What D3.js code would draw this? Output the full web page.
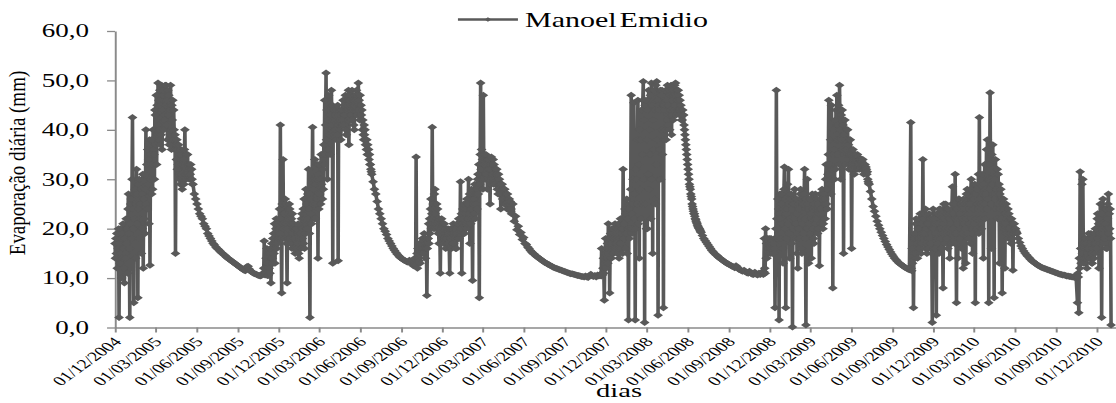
<!DOCTYPE html>
<html><head><meta charset="utf-8">
<script src="https://cdn.jsdelivr.net/npm/d3@7"></script>
<style>
html,body{margin:0;padding:0;background:#fff;overflow:hidden}
svg{display:block}
text{font-family:"Liberation Serif","Times New Roman",serif;fill:#000}
</style>
</head><body>
<svg id="chart" width="1116" height="403" viewBox="0 0 744 403" preserveAspectRatio="none"></svg>
<script>
// ---- data: wet seasons daily, dry-season recessions every 3 days ----
const startDate = "2004-12-01";
const seriesName = "Manoel Emidio";
const wet2004_05 = [17,14,18,15,19,12,19,16,20,2,17,13,20,15,18,10,19,14,21,16,12,9,18,15,
 14,22,17,20,11,24,27,19,16,2,21,25,26,18,30,42.5,24,20,5,27,22,28,14,25,
 32,21,27,6,24,29,30,18,25,22,28,15,27,20,31,12,26,22,31,19,28,
 40,25,33,24,36,29,34,21,38,12.6,30,35,38,27,33,28,40,36,35,30,44,43,37,47,
 33,45,39,49.5,41,46,40,48,37,45,39,49,36,44,47,48,40,43,42,49,45,
 49,41,46,38,48,43,47,37,45,44,49,40,36,45,42,46,38,44,40,36,39,15,37,34,
 38,32,36,33,37,31,30,35,29,36,31,34,28,33,30,34,29,36,40,31,33,30,35,32,35,31,33,33,30,32,31,33,30,32,30,29];
const dry2005 = [29,27,26,25,24,23,22.5,22,21,20.5, 20,19,18.5,18,17.5,17,16.7,16.3,16,15.8, 15.5,15.2,15,14.7,14.5,14.2,14,13.8,13.6,13.4, 13.2,13,12.8,12.6,12.4,12.2,12,11.8,11.6,11.5, 12.3,12.4,11.8,11.4,11.2,11,10.9,10.8,10.6,10.5, 10.4,10.5];
const wet2005_06 = [11,10.8,12,17.5,11,10.6,12,14,11,16,10.5,13,10.5,15,12,15,11,16,9,14,17,14,18,13,19,15,21,13,17,20,22,16,19,17,21,18,
 20,24,19,41,22,18,7,25,21,34,20,23,23,18,26,25,21,17,9,20,23,22,18,25,24,17,21,18,22,16,23,19,20,21,16,18,15,20,17,20,16,19,17,21,15,14,19,18,19,16,22,23,18,20,
 24,17,26,16,22,19,28,20,25,20,27,22,32,24,19,2,27,23,26,21,30,40.5,25,28,30,22,34,22,29,25,
 30,26,33,14,31,24,33,27,30,25,35,29,35,26,32,28,37,33,46,35,41,51.5,38,44,30,42,36,47,39,44,35,43,40,
 48,41,45,13,42,39,44,40,43,40,44,38,42,39,45,13.5,41,44,43,40,42,38,44,41,44,42,46,41,45,43,43,47,40,39,44,46,45,42,48,37,46,44,47,43,45,42,48,44,
 44,46,41,40,45,47,46,44,48,43,47,45,49.5,44,46,42,47,45,45,43,44,40,42,39,38,41,39,40,37,38,36,38,35,37,35,36,34,35,33,33,32,31.5];
const dry2006 = [31,29.5,28,27,25.5,24,23,22,21,20, 19.5,18.8,18,17.5,17,16.5,16,15.6,15.2,14.8, 14.5,14.2,14,13.8,13.6,13.5,13.3,13.2,13.6,13.1,13.4];
const wet2006_07 = [12.5,13.2,12.8,14,13,12.6,34.5,13.5,15,12,16,14,15,13.5,17,13,16,15,17,15,18,16,17.5,15,19,16,18,14,17,16,6.5,16,18,
 18,21,17,22,19,24,26,20,23,40.5,22,25,24,20,27,28,23,21,20,25,22,24,19,21,17,22,20,11,19,21,
 22,18,20,18,21,17,21,18,19,16,20,18,19,17,20,17,19,16,11,18,20,18,16,19,20,17,21,17,20,18,19,16,20,16,19,21,
 21,18,22,18,22,19,29.5,20,23,11,21,24,22,19,25,19,23,21,24,20,26,21,25,22,30,23,27,17,24,21,24,28,22,9.5,25,27,
 26,23,29,22,27,25,28,24,30,31,27,33,6,29,35,49.5,32,36,30,34,28,47,33,35,33,30,34,35,31,33,28,34,32,34,30,33,
 25,32,29,34.5,30,33,31,34,29,33,30,32,29,32,31,32,28,30,27,31,29,30,27,29,24,29,28,29,26,28,26,28,25,28,25,27,25,27,24,27,24,26,24,26,25,25.5,23.5,24];
const dry2007 = [23,25,21.5,22.5,19.8,20.5,18.8,19.2,17.8,18.2, 17,16.8,16.3,16,15.6,15.3,15,14.8,14.5,14.3, 14.1,13.9,13.7,13.5,13.3,13.1,13,12.8,12.7,12.5, 12.4,12.2,12.1,12,11.9,11.8,11.7,11.6,11.5,11.4, 11.3,11.2,11.1,11,10.9,10.9,10.8,10.7,10.6,10.5, 10.5,10.4,10.3,10.3,10.2,10.4,10.2,10.1,10.5,10.8, 10.4,10.3,10.5,10.2,10.6,10.4];
const wet2007_08 = [10.5,10.8,10.4,16,11,10.6,12,14,11,5.5,13,15,18,12,16,14,17,13,21,15,18,7,16,19,17,14,20,20,16,18,15,19,17,21,16,18,17,20,15,19,16,21,14,18,17,22,17,19,
 16,20,15,32,18,21,18,24,16,23,19,26,15,22,20,1.5,24,18,25,20,28,47,23,19,20,30,25,45.5,22,27,1.5,32,20,30,25,38,46,21,33,14,40,28,38,22,44,25,35,46,
 49.8,30,42,1,45,25,46,20,38,20,44,31,48,28,40,35,47,22,49.5,30,45,15,42,36,48,26,44,25,49,33,49.8,38,46,2.5,45,30,44,36,48,30,47,40,48,35,45,4,44,38,
 45,40,48,38,46,42,49,41,45,43,48,40,47,44,49,39,46,43,48,42,47,44,49,45,49.5,43,47,
 44,48,46,48,44,47,43,46,44,45,42,44,42,44,43,43,41,40,39,38,37,36,35,34,33,32,31,30,29,28.5,28,27,26.5,26,25,24.5,24,23.5,23,23,22.5,22,21.8,21.5,21.2,21,20.7,20.5,20.3,20.1,20,19.8,19.6,19.4];
const dry2008 = [19.2,18.6,18,17.6,17.2,16.8,16.4,16,15.6,15.3, 15,14.7,14.5,14.2,14,13.8,13.6,13.4,13.2,13, 12.9,12.7,12.6,12.4,12.3,12.1,12.5,12.2,11.8,11.7, 11.5,11.4,11.6,11.3,11.1,11,11.4,11,10.8,10.7, 11.2,10.8,10.6,11,10.7,11.2];
const wet2008_09 = [11,10.7,11.3,18,12,11,20,14,17,14,18,16,17.5,15,18,16,17,15,18,16,17,15,17.5,16,17,15,18,4,16,20,48,22,18,26,20,24,1.5,23,27,
 22,18,25,27,21,16,13,24,28,32.5,20,26,4,23,18,24,29,21,32,19,25,14,26,22,27,17,24,0.1,25,20,25,22,28,18,26,21,26,15,23,
 12,25,20,24,18,27,28,22,16,15,25,21,25,19,27,32,22,18,0.5,26,24,30,20,25,13,24,21,26,19,23,14,22,27,24,20,18,17,25,22,
 27,21,24,22,26,19,25,20,23,12.5,24,27,24,21,26,28,23,20,21,27,25,26,22,30,33,25,28,24,31,35,46,29,33,30,38,27,45,32,36,
 8,35,40,36,30,42,32,44,38,47,35,41,38,45,33,49,40,44,30,43,38,44,36,41,15,39,35,42,33,38,36,40,34,40,35,37,32,38,35,38,33,36,
 16,35,33,36,32,34,31,35,33,35,32,34,33,35,32,34.5,33,34,32,34,33,34,32,33.5,33,34,32,31,33,32,33,31.5,32.5,32,31,31.5,30,29.5,29.2];
const dry2009 = [29,27.5,26,24.5,23.5,22.5,21.5,20.7,20,19.3, 18.6,18,17.4,16.8,16.3,15.8,15.3,14.8,14.4,14, 13.7,13.4,13.1,12.9,12.7,12.5,12.3,12.1,12,11.8,11.7];
const wet2009_10 = [41.5,12,11.5,16,13,18,4,15,19,18,14,21,22,17,15,14,20,18,20,16,22,23,18,15,17,21,19,34,18,22,19,23,16,24,17,20,15,21,18,21,16,23,18,22,17,22,19,15,
 1,20,24,20,16,22,16,21,19,2.5,23,18,23,17,21,15,24,20,24,18,16,20,23,19,8,21,25,22,17,20,25,19,23,18,24,16,24,20,22,14,23,19,21,17,25,28.5,20,23,
 19,25,17,31,22,19,5,24,21,14,22,26,26,18,23,20,25,16,24,19,22,12,26,21,25,20,24,13,27,22,28,19,25,18,24,21,25,17,28,30,22,19,15,26,24,26,21,29,
 5,27,22,28,20,25,24,31,19,42.5,26,22,25,30,20,31,24,27,14,29,25,33,22,28,27,36,24,38,26,30,5,33,28,47.5,30,25,16,35,29,37,27,31,6,30,26,34,24,28,
 27,32,22,31,25,29,13,27,24,28,22,26,7,25,21,26,20,24,12,23,21,25,19,22,20,24,18,23,20,22,19,22,17,22,18,21,11.6,21,19,21,19.5,20,20,19.5,19.2];
const dry2010 = [19,18,17.2,16.5,16,15.5,15.1,14.7,14.4,14.1, 13.8,13.5,13.3,13.1,12.9,12.7,12.5,12.4,12.2,12.1, 12,11.9,11.8,11.7,11.6,11.5,11.4,11.3,11.2,11.1, 11,10.9,10.8,10.7,10.6,10.6,10.5,10.4,10.4,10.3, 10.3,10.2,10.2,10.1,10.3];
const wet2010_11 = [5,11,10.2,3,14,12,31.5,16,13,16,29,15,30,17,13,14,18,16,18,14,17,12,16,15,16,19,14,14,17,18,19,15,13,13,18,16,17,14,19,15,20,17,
 20,16,22,23,18,21,12,22,19,25,17,21,2,23,20,26,19,17,18,24,21,24,16,20,16,22,25,27,19,23,20,24,18,0.5];

// step (days between readings) of each stretch, in order
const segments = [
  {values: wet2004_05, step: 1}, {values: dry2005, step: 3},
  {values: wet2005_06, step: 1}, {values: dry2006, step: 3},
  {values: wet2006_07, step: 1}, {values: dry2007, step: 3},
  {values: wet2007_08, step: 1}, {values: dry2008, step: 3},
  {values: wet2008_09, step: 1}, {values: dry2009, step: 3},
  {values: wet2009_10, step: 1}, {values: dry2010, step: 3},
  {values: wet2010_11, step: 1}
];

const xTickLabels = ["01/12/2004","01/03/2005","01/06/2005","01/09/2005","01/12/2005","01/03/2006","01/06/2006","01/09/2006","01/12/2006","01/03/2007","01/06/2007","01/09/2007","01/12/2007","01/03/2008","01/06/2008","01/09/2008","01/12/2008","01/03/2009","01/06/2009","01/09/2009","01/12/2009","01/03/2010","01/06/2010","01/09/2010","01/12/2010"];
const yTicks = [0,10,20,30,40,50,60];
const xAxisEnd = "2011-01-13";
const yTitle = "Evaporação diária (mm)";
const xTitle = "dias";

// ---- build ----
(function () {
const parseISO = d3.utcParse("%Y-%m-%d");
const parseBR = d3.utcParse("%d/%m/%Y");
const t0 = parseISO(startDate);
const data = [];
let day = 0;
segments.forEach(s => s.values.forEach(v => {
  data.push({date: d3.utcDay.offset(t0, day), value: v});
  day += s.step;
}));

const svg = d3.select("#chart");
const mLeft = 76.67, mRight = 744, mTop = 31, mBottom = 327.5;
const lineColor = "#595959", axisColor = "#8a8a8a";

const x = d3.scaleUtc().domain([t0, parseISO(xAxisEnd)]).range([mLeft, mRight]);
const y = d3.scaleLinear().domain([0, 60]).range([mBottom, mTop]);

// y axis
const yAxis = svg.append("g").attr("transform", `translate(${mLeft},0)`)
  .call(d3.axisLeft(y).tickValues(yTicks).tickSizeInner(5.3).tickSizeOuter(0).tickPadding(12)
    .tickFormat(d => d3.format(".1f")(d).replace(".", ",")));
yAxis.select(".domain").attr("stroke", axisColor).attr("stroke-width", 1.3);
yAxis.selectAll(".tick line").attr("stroke", axisColor).attr("stroke-width", 1.3);
yAxis.selectAll(".tick text").attr("font-size", 18).attr("fill", "#000")
  .style("font-family", '"Liberation Serif", serif');

// x axis
const xTickDates = xTickLabels.map(parseBR);
const xAxis = svg.append("g").attr("transform", `translate(0,${mBottom})`)
  .call(d3.axisBottom(x).tickValues(xTickDates).tickSizeInner(5).tickSizeOuter(0)
    .tickFormat((d, i) => xTickLabels[i]));
xAxis.select(".domain").attr("stroke", axisColor).attr("stroke-width", 1.3);
xAxis.selectAll(".tick line").attr("stroke", axisColor).attr("stroke-width", 1.3);
xAxis.selectAll(".tick text").attr("font-size", 13.2).attr("fill", "#000")
  .style("font-family", '"Liberation Serif", serif')
  .attr("x", 0).attr("y", 0).attr("dy", 0)
  .attr("text-anchor", "end")
  .attr("transform", "translate(4.5,15) rotate(-47)");

// series line + diamond markers
const line = d3.line().x(d => x(d.date)).y(d => y(d.value));
svg.append("path").datum(data).attr("d", line)
  .attr("fill", "none").attr("stroke", lineColor).attr("stroke-width", 2.4)
  .attr("stroke-linejoin", "round");

const diamond = "M0,-3.5L3.3,0L0,3.5L-3.3,0Z";
svg.append("g").selectAll("path").data(data).join("path")
  .attr("d", diamond)
  .attr("transform", d => `translate(${x(d.date)},${y(d.value)})`)
  .attr("fill", lineColor);

// legend
const lg = svg.append("g");
lg.append("line").attr("x1", 305.3).attr("x2", 345.3).attr("y1", 19.5).attr("y2", 19.5)
  .attr("stroke", lineColor).attr("stroke-width", 2.4);
lg.append("path").attr("d", "M0,-2.3L2.2,0L0,2.3L-2.2,0Z").attr("transform", "translate(325.3,19.5)").attr("fill", lineColor);
lg.append("text").attr("x", 350).attr("y", 26.7).attr("font-size", 20)
  .attr("word-spacing", -3).text(seriesName);

// titles
svg.append("text").attr("x", 412.7).attr("y", 397.5).attr("text-anchor", "middle")
  .attr("font-size", 19).text(xTitle);
svg.append("text").attr("text-anchor", "middle").attr("font-size", 19)
  .attr("transform", "translate(16.7,163) scale(0.78,1) rotate(-90)").text(yTitle);
})();
</script>
</body></html>
